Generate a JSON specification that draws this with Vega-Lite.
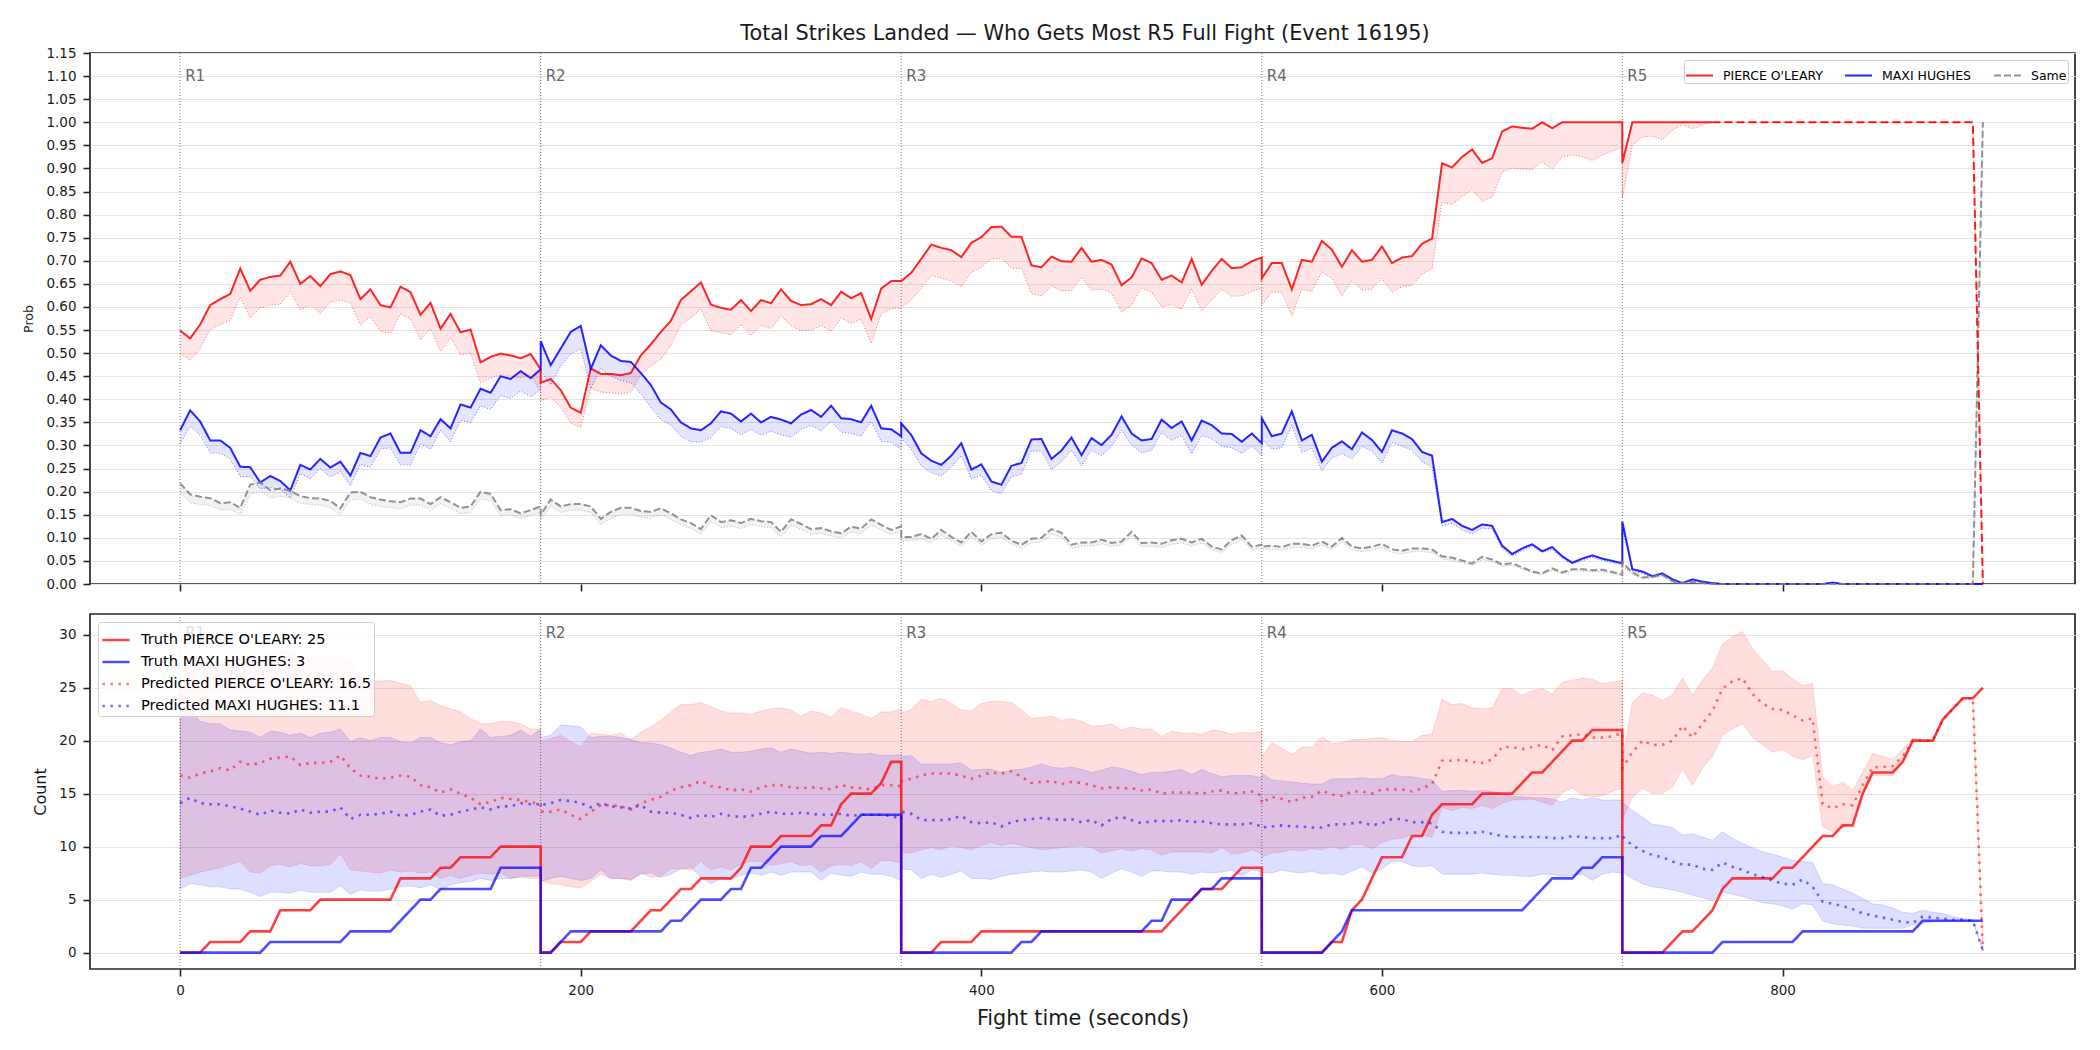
{
  "$schema": "https://vega.github.io/schema/vega-lite/v6.json",
  "background": "white",
  "padding": {"left": 22, "top": 22, "right": 5, "bottom": 5},
  "config": {
    "font": "DejaVu Sans",
    "view": {"stroke": "#262626", "strokeWidth": 1.7},
    "axis": {
      "domain": false,
      "tickColor": "#262626",
      "tickWidth": 1.6,
      "tickSize": 7,
      "labelFont": "DejaVu Sans",
      "labelFontSize": 13.5,
      "labelColor": "#1a1a1a",
      "labelPadding": 7,
      "labelOverlap": false,
      "gridColor": "#e4e4e4",
      "gridWidth": 1,
      "titleFont": "DejaVu Sans",
      "titleFontWeight": "normal",
      "titleColor": "#1a1a1a"
    }
  },
  "title": {
    "text": "Total Strikes Landed — Who Gets Most R5 Full Fight (Event 16195)",
    "font": "DejaVu Sans",
    "fontSize": 20.8,
    "fontWeight": "normal",
    "color": "#1a1a1a",
    "anchor": "middle",
    "dx": 36,
    "offset": 0.5
  },
  "datasets": {
    "rounds": [
      {"t": 0, "r": "R1"}, {"t": 180, "r": "R2"}, {"t": 360, "r": "R3"}, {"t": 540, "r": "R4"}, {"t": 720, "r": "R5"}
    ],
    "fight": [
      {"t":0,"pr":0.549,"prl":0.498,"pb":0.333,"pbl":0.303,"ps":0.218,"psl":0.198,"tr":0,"tb":0,"er":16.7,"erl":7.0,"erh":26.0,"eb":14.1,"ebl":6.0,"ebh":22.1},
      {"t":5,"pr":0.532,"prl":0.485,"pb":0.376,"pbl":0.342,"ps":0.194,"psl":0.176,"tr":0,"tb":0,"er":16.5,"erl":7.3,"erh":26.5,"eb":14.6,"ebl":6.5,"ebh":22.9},
      {"t":10,"pr":0.562,"prl":0.510,"pb":0.352,"pbl":0.322,"ps":0.189,"psl":0.172,"tr":0,"tb":0,"er":16.9,"erl":7.6,"erh":26.8,"eb":14.1,"ebl":6.4,"ebh":21.8},
      {"t":15,"pr":0.604,"prl":0.551,"pb":0.311,"pbl":0.284,"ps":0.186,"psl":0.170,"tr":1,"tb":0,"er":17.1,"erl":7.8,"erh":27.2,"eb":14.0,"ebl":6.2,"ebh":21.6},
      {"t":20,"pr":0.617,"prl":0.562,"pb":0.311,"pbl":0.283,"ps":0.175,"psl":0.160,"tr":1,"tb":0,"er":17.4,"erl":8.0,"erh":27.5,"eb":14.0,"ebl":6.2,"ebh":21.6},
      {"t":25,"pr":0.628,"prl":0.571,"pb":0.295,"pbl":0.271,"ps":0.177,"psl":0.162,"tr":1,"tb":0,"er":17.2,"erl":8.3,"erh":27.4,"eb":13.8,"ebl":6.0,"ebh":21.0},
      {"t":30,"pr":0.683,"prl":0.621,"pb":0.254,"pbl":0.233,"ps":0.165,"psl":0.150,"tr":1,"tb":0,"er":18.0,"erl":8.6,"erh":27.8,"eb":13.6,"ebl":6.0,"ebh":20.9},
      {"t":35,"pr":0.635,"prl":0.577,"pb":0.253,"pbl":0.232,"ps":0.215,"psl":0.194,"tr":2,"tb":0,"er":17.7,"erl":7.6,"erh":27.6,"eb":13.3,"ebl":5.7,"ebh":20.8},
      {"t":40,"pr":0.659,"prl":0.598,"pb":0.220,"pbl":0.206,"ps":0.220,"psl":0.202,"tr":2,"tb":0,"er":17.9,"erl":7.5,"erh":27.7,"eb":13.0,"ebl":5.3,"ebh":20.3},
      {"t":45,"pr":0.665,"prl":0.604,"pb":0.234,"pbl":0.209,"ps":0.203,"psl":0.186,"tr":2,"tb":1,"er":18.3,"erl":8.2,"erh":28.1,"eb":13.4,"ebl":5.7,"ebh":20.9},
      {"t":50,"pr":0.668,"prl":0.606,"pb":0.223,"pbl":0.205,"ps":0.207,"psl":0.190,"tr":4,"tb":1,"er":18.4,"erl":8.3,"erh":28.4,"eb":13.2,"ebl":5.7,"ebh":20.8},
      {"t":55,"pr":0.698,"prl":0.633,"pb":0.203,"pbl":0.186,"ps":0.202,"psl":0.186,"tr":4,"tb":1,"er":18.5,"erl":8.1,"erh":28.6,"eb":13.1,"ebl":5.6,"ebh":20.5},
      {"t":60,"pr":0.650,"prl":0.594,"pb":0.258,"pbl":0.239,"ps":0.190,"psl":0.175,"tr":4,"tb":1,"er":17.7,"erl":8.4,"erh":27.9,"eb":13.5,"ebl":5.9,"ebh":20.7},
      {"t":65,"pr":0.667,"prl":0.604,"pb":0.248,"pbl":0.228,"ps":0.186,"psl":0.172,"tr":4,"tb":1,"er":17.9,"erl":8.2,"erh":27.8,"eb":13.2,"ebl":5.7,"ebh":20.3},
      {"t":70,"pr":0.645,"prl":0.586,"pb":0.271,"pbl":0.250,"ps":0.185,"psl":0.171,"tr":5,"tb":1,"er":17.9,"erl":8.2,"erh":27.9,"eb":13.3,"ebl":5.7,"ebh":20.7},
      {"t":75,"pr":0.671,"prl":0.611,"pb":0.252,"pbl":0.232,"ps":0.180,"psl":0.166,"tr":5,"tb":1,"er":18.0,"erl":8.3,"erh":27.8,"eb":13.3,"ebl":5.7,"ebh":20.8},
      {"t":80,"pr":0.677,"prl":0.615,"pb":0.265,"pbl":0.243,"ps":0.164,"psl":0.150,"tr":5,"tb":1,"er":18.6,"erl":9.3,"erh":27.9,"eb":13.7,"ebl":6.3,"ebh":21.1},
      {"t":85,"pr":0.669,"prl":0.609,"pb":0.235,"pbl":0.213,"ps":0.198,"psl":0.182,"tr":5,"tb":2,"er":17.4,"erl":7.8,"erh":27.6,"eb":12.6,"ebl":5.5,"ebh":19.9},
      {"t":90,"pr":0.617,"prl":0.561,"pb":0.284,"pbl":0.259,"ps":0.200,"psl":0.184,"tr":5,"tb":2,"er":16.7,"erl":7.7,"erh":26.0,"eb":13.0,"ebl":5.9,"ebh":20.3},
      {"t":95,"pr":0.638,"prl":0.579,"pb":0.277,"pbl":0.253,"ps":0.188,"psl":0.173,"tr":5,"tb":2,"er":16.6,"erl":7.6,"erh":25.7,"eb":13.0,"ebl":5.8,"ebh":20.0},
      {"t":100,"pr":0.604,"prl":0.547,"pb":0.317,"pbl":0.292,"ps":0.183,"psl":0.168,"tr":5,"tb":2,"er":16.4,"erl":7.5,"erh":25.6,"eb":13.1,"ebl":5.8,"ebh":20.3},
      {"t":105,"pr":0.599,"prl":0.543,"pb":0.326,"pbl":0.295,"ps":0.179,"psl":0.165,"tr":5,"tb":2,"er":16.5,"erl":7.8,"erh":25.7,"eb":13.3,"ebl":6.0,"ebh":20.3},
      {"t":110,"pr":0.644,"prl":0.585,"pb":0.284,"pbl":0.258,"ps":0.177,"psl":0.163,"tr":7,"tb":3,"er":16.7,"erl":7.6,"erh":25.4,"eb":12.9,"ebl":6.2,"ebh":19.9},
      {"t":115,"pr":0.632,"prl":0.574,"pb":0.284,"pbl":0.258,"ps":0.185,"psl":0.170,"tr":7,"tb":4,"er":16.6,"erl":7.7,"erh":25.2,"eb":13.0,"ebl":6.3,"ebh":19.8},
      {"t":120,"pr":0.583,"prl":0.529,"pb":0.333,"pbl":0.303,"ps":0.185,"psl":0.171,"tr":7,"tb":5,"er":15.8,"erl":7.5,"erh":23.6,"eb":13.3,"ebl":6.1,"ebh":20.3},
      {"t":125,"pr":0.609,"prl":0.553,"pb":0.320,"pbl":0.292,"ps":0.173,"psl":0.160,"tr":7,"tb":5,"er":15.6,"erl":7.6,"erh":23.8,"eb":13.5,"ebl":6.4,"ebh":20.3},
      {"t":130,"pr":0.553,"prl":0.504,"pb":0.357,"pbl":0.333,"ps":0.188,"psl":0.174,"tr":8,"tb":6,"er":15.1,"erl":7.0,"erh":23.3,"eb":12.9,"ebl":5.9,"ebh":19.8},
      {"t":135,"pr":0.585,"prl":0.534,"pb":0.337,"pbl":0.308,"ps":0.177,"psl":0.164,"tr":8,"tb":6,"er":15.4,"erl":7.3,"erh":23.0,"eb":13.0,"ebl":6.4,"ebh":19.6},
      {"t":140,"pr":0.545,"prl":0.496,"pb":0.389,"pbl":0.354,"ps":0.165,"psl":0.152,"tr":9,"tb":6,"er":15.0,"erl":7.0,"erh":22.7,"eb":13.3,"ebl":6.6,"ebh":19.9},
      {"t":145,"pr":0.551,"prl":0.501,"pb":0.382,"pbl":0.350,"ps":0.168,"psl":0.155,"tr":9,"tb":6,"er":14.6,"erl":7.3,"erh":22.1,"eb":13.5,"ebl":6.7,"ebh":20.0},
      {"t":150,"pr":0.480,"prl":0.436,"pb":0.423,"pbl":0.386,"ps":0.200,"psl":0.184,"tr":9,"tb":6,"er":14.0,"erl":7.5,"erh":21.6,"eb":13.7,"ebl":7.0,"ebh":21.1},
      {"t":155,"pr":0.492,"prl":0.446,"pb":0.414,"pbl":0.378,"ps":0.195,"psl":0.180,"tr":9,"tb":6,"er":14.2,"erl":7.4,"erh":21.6,"eb":13.5,"ebl":6.8,"ebh":20.3},
      {"t":160,"pr":0.499,"prl":0.453,"pb":0.450,"pbl":0.408,"ps":0.160,"psl":0.148,"tr":10,"tb":8,"er":14.6,"erl":7.5,"erh":21.8,"eb":13.8,"ebl":7.0,"ebh":20.4},
      {"t":165,"pr":0.495,"prl":0.450,"pb":0.444,"pbl":0.402,"ps":0.162,"psl":0.150,"tr":10,"tb":8,"er":14.5,"erl":7.0,"erh":21.8,"eb":13.8,"ebl":7.0,"ebh":20.5},
      {"t":170,"pr":0.489,"prl":0.446,"pb":0.461,"pbl":0.418,"ps":0.153,"psl":0.142,"tr":10,"tb":8,"er":14.4,"erl":7.1,"erh":21.6,"eb":14.1,"ebl":7.2,"ebh":21.0},
      {"t":175,"pr":0.498,"prl":0.453,"pb":0.446,"pbl":0.406,"ps":0.160,"psl":0.148,"tr":10,"tb":8,"er":14.2,"erl":7.0,"erh":21.1,"eb":14.0,"ebl":7.2,"ebh":20.4},
      {"t":180,"pr":0.465,"prl":0.415,"pb":0.465,"pbl":0.420,"ps":0.168,"psl":0.155,"tr":10,"tb":8,"er":14.0,"erl":7.0,"erh":21.1,"eb":14.0,"ebl":7.2,"ebh":21.1},
      {"t":180,"pr":0.436,"prl":0.397,"pb":0.526,"pbl":0.462,"ps":0.150,"psl":0.138,"tr":0,"tb":0,"er":13.3,"erl":6.8,"erh":19.9,"eb":13.9,"ebl":6.7,"ebh":20.3},
      {"t":185,"pr":0.444,"prl":0.405,"pb":0.474,"pbl":0.431,"ps":0.183,"psl":0.168,"tr":0,"tb":0,"er":13.3,"erl":6.5,"erh":20.2,"eb":14.1,"ebl":7.0,"ebh":20.5},
      {"t":190,"pr":0.420,"prl":0.382,"pb":0.510,"pbl":0.472,"ps":0.168,"psl":0.155,"tr":1,"tb":1,"er":13.5,"erl":6.4,"erh":20.5,"eb":14.4,"ebl":7.2,"ebh":21.5},
      {"t":195,"pr":0.382,"prl":0.348,"pb":0.546,"pbl":0.498,"ps":0.173,"psl":0.160,"tr":1,"tb":2,"er":13.0,"erl":6.2,"erh":19.9,"eb":14.3,"ebl":7.0,"ebh":21.4},
      {"t":200,"pr":0.371,"prl":0.339,"pb":0.559,"pbl":0.510,"ps":0.173,"psl":0.160,"tr":1,"tb":2,"er":12.6,"erl":6.1,"erh":19.4,"eb":14.1,"ebl":6.8,"ebh":21.3},
      {"t":205,"pr":0.467,"prl":0.423,"pb":0.466,"pbl":0.423,"ps":0.168,"psl":0.155,"tr":2,"tb":2,"er":13.3,"erl":6.7,"erh":20.7,"eb":13.7,"ebl":7.0,"ebh":20.3},
      {"t":210,"pr":0.455,"prl":0.416,"pb":0.517,"pbl":0.468,"ps":0.141,"psl":0.128,"tr":2,"tb":2,"er":13.9,"erl":7.4,"erh":20.6,"eb":14.1,"ebl":7.8,"ebh":20.4},
      {"t":215,"pr":0.455,"prl":0.414,"pb":0.495,"pbl":0.450,"ps":0.156,"psl":0.142,"tr":2,"tb":2,"er":13.9,"erl":7.0,"erh":20.5,"eb":13.8,"ebl":7.0,"ebh":20.4},
      {"t":220,"pr":0.452,"prl":0.412,"pb":0.483,"pbl":0.441,"ps":0.165,"psl":0.150,"tr":2,"tb":2,"er":13.8,"erl":7.0,"erh":20.7,"eb":13.7,"ebl":7.0,"ebh":20.3},
      {"t":225,"pr":0.457,"prl":0.416,"pb":0.481,"pbl":0.436,"ps":0.165,"psl":0.151,"tr":2,"tb":2,"er":13.5,"erl":6.8,"erh":20.1,"eb":13.6,"ebl":6.9,"ebh":20.1},
      {"t":230,"pr":0.495,"prl":0.453,"pb":0.457,"pbl":0.412,"ps":0.158,"psl":0.145,"tr":3,"tb":2,"er":14.1,"erl":7.5,"erh":20.8,"eb":13.9,"ebl":7.4,"ebh":19.8},
      {"t":235,"pr":0.519,"prl":0.472,"pb":0.431,"pbl":0.382,"ps":0.156,"psl":0.143,"tr":4,"tb":2,"er":14.4,"erl":7.1,"erh":21.3,"eb":13.3,"ebl":7.5,"ebh":19.8},
      {"t":240,"pr":0.546,"prl":0.487,"pb":0.393,"pbl":0.356,"ps":0.164,"psl":0.150,"tr":4,"tb":2,"er":14.7,"erl":7.2,"erh":21.9,"eb":13.2,"ebl":7.1,"ebh":19.6},
      {"t":245,"pr":0.570,"prl":0.517,"pb":0.378,"pbl":0.344,"ps":0.153,"psl":0.140,"tr":5,"tb":3,"er":15.3,"erl":7.9,"erh":22.7,"eb":13.2,"ebl":7.4,"ebh":19.3},
      {"t":250,"pr":0.615,"prl":0.562,"pb":0.350,"pbl":0.320,"ps":0.140,"psl":0.128,"tr":6,"tb":3,"er":15.6,"erl":7.9,"erh":23.4,"eb":13.0,"ebl":7.9,"ebh":18.9},
      {"t":255,"pr":0.634,"prl":0.576,"pb":0.337,"pbl":0.308,"ps":0.132,"psl":0.120,"tr":6,"tb":4,"er":15.8,"erl":7.8,"erh":23.4,"eb":12.7,"ebl":8.0,"ebh":18.6},
      {"t":260,"pr":0.653,"prl":0.595,"pb":0.333,"pbl":0.307,"ps":0.119,"psl":0.108,"tr":7,"tb":5,"er":16.2,"erl":8.6,"erh":23.6,"eb":13.0,"ebl":7.1,"ebh":18.9},
      {"t":265,"pr":0.605,"prl":0.549,"pb":0.348,"pbl":0.318,"ps":0.149,"psl":0.136,"tr":7,"tb":5,"er":15.7,"erl":7.8,"erh":23.2,"eb":12.8,"ebl":6.5,"ebh":19.0},
      {"t":270,"pr":0.598,"prl":0.544,"pb":0.374,"pbl":0.341,"ps":0.134,"psl":0.122,"tr":7,"tb":5,"er":15.6,"erl":8.1,"erh":22.8,"eb":13.1,"ebl":7.0,"ebh":19.2},
      {"t":275,"pr":0.594,"prl":0.540,"pb":0.369,"pbl":0.337,"ps":0.138,"psl":0.126,"tr":7,"tb":6,"er":15.3,"erl":7.8,"erh":22.6,"eb":12.9,"ebl":6.9,"ebh":18.9},
      {"t":280,"pr":0.615,"prl":0.562,"pb":0.352,"pbl":0.323,"ps":0.132,"psl":0.120,"tr":8,"tb":6,"er":15.4,"erl":8.4,"erh":22.6,"eb":12.8,"ebl":7.3,"ebh":18.9},
      {"t":285,"pr":0.591,"prl":0.538,"pb":0.369,"pbl":0.335,"ps":0.141,"psl":0.129,"tr":10,"tb":8,"er":15.2,"erl":8.6,"erh":22.5,"eb":12.9,"ebl":7.5,"ebh":19.0},
      {"t":290,"pr":0.615,"prl":0.560,"pb":0.350,"pbl":0.322,"ps":0.136,"psl":0.124,"tr":10,"tb":8,"er":15.6,"erl":8.6,"erh":22.8,"eb":13.1,"ebl":7.3,"ebh":19.2},
      {"t":295,"pr":0.608,"prl":0.553,"pb":0.362,"pbl":0.331,"ps":0.134,"psl":0.122,"tr":10,"tb":9,"er":15.8,"erl":8.2,"erh":23.0,"eb":13.3,"ebl":7.6,"ebh":19.3},
      {"t":300,"pr":0.638,"prl":0.581,"pb":0.356,"pbl":0.323,"ps":0.113,"psl":0.102,"tr":11,"tb":10,"er":15.8,"erl":8.4,"erh":23.1,"eb":13.1,"ebl":7.3,"ebh":18.9},
      {"t":305,"pr":0.613,"prl":0.559,"pb":0.348,"pbl":0.318,"ps":0.140,"psl":0.128,"tr":11,"tb":10,"er":15.6,"erl":8.6,"erh":22.9,"eb":13.1,"ebl":7.6,"ebh":19.2},
      {"t":310,"pr":0.604,"prl":0.549,"pb":0.367,"pbl":0.335,"ps":0.130,"psl":0.118,"tr":11,"tb":10,"er":15.5,"erl":8.2,"erh":22.3,"eb":13.2,"ebl":7.6,"ebh":19.0},
      {"t":315,"pr":0.606,"prl":0.550,"pb":0.377,"pbl":0.343,"ps":0.119,"psl":0.108,"tr":11,"tb":10,"er":15.6,"erl":8.3,"erh":22.8,"eb":13.1,"ebl":7.6,"ebh":18.8},
      {"t":320,"pr":0.617,"prl":0.560,"pb":0.362,"pbl":0.332,"ps":0.121,"psl":0.110,"tr":12,"tb":11,"er":15.5,"erl":7.6,"erh":22.6,"eb":13.0,"ebl":6.8,"ebh":18.9},
      {"t":325,"pr":0.604,"prl":0.547,"pb":0.386,"pbl":0.352,"ps":0.114,"psl":0.104,"tr":12,"tb":11,"er":15.4,"erl":8.2,"erh":22.2,"eb":13.0,"ebl":7.5,"ebh":18.8},
      {"t":330,"pr":0.633,"prl":0.576,"pb":0.359,"pbl":0.329,"ps":0.110,"psl":0.100,"tr":14,"tb":11,"er":15.8,"erl":8.3,"erh":23.1,"eb":13.1,"ebl":7.3,"ebh":18.9},
      {"t":335,"pr":0.619,"prl":0.564,"pb":0.357,"pbl":0.326,"ps":0.124,"psl":0.113,"tr":15,"tb":12,"er":15.6,"erl":8.2,"erh":22.8,"eb":12.9,"ebl":7.2,"ebh":18.8},
      {"t":340,"pr":0.630,"prl":0.574,"pb":0.350,"pbl":0.320,"ps":0.120,"psl":0.109,"tr":15,"tb":13,"er":15.5,"erl":8.6,"erh":22.5,"eb":13.0,"ebl":7.6,"ebh":18.7},
      {"t":345,"pr":0.574,"prl":0.521,"pb":0.386,"pbl":0.352,"ps":0.140,"psl":0.128,"tr":15,"tb":13,"er":15.4,"erl":7.9,"erh":22.1,"eb":13.0,"ebl":7.4,"ebh":18.8},
      {"t":350,"pr":0.640,"prl":0.585,"pb":0.337,"pbl":0.309,"ps":0.128,"psl":0.117,"tr":16,"tb":13,"er":15.8,"erl":8.7,"erh":22.7,"eb":13.0,"ebl":7.4,"ebh":18.6},
      {"t":355,"pr":0.656,"prl":0.596,"pb":0.335,"pbl":0.307,"ps":0.117,"psl":0.107,"tr":18,"tb":13,"er":15.8,"erl":8.7,"erh":22.7,"eb":12.9,"ebl":7.2,"ebh":18.6},
      {"t":360,"pr":0.656,"prl":0.598,"pb":0.320,"pbl":0.292,"ps":0.125,"psl":0.114,"tr":18,"tb":13,"er":15.7,"erl":8.4,"erh":23.0,"eb":12.6,"ebl":6.8,"ebh":18.7},
      {"t":360,"pr":0.656,"prl":0.598,"pb":0.348,"pbl":0.316,"ps":0.102,"psl":0.093,"tr":0,"tb":0,"er":16.2,"erl":9.5,"erh":22.6,"eb":13.3,"ebl":7.9,"ebh":18.5},
      {"t":365,"pr":0.674,"prl":0.615,"pb":0.323,"pbl":0.292,"ps":0.102,"psl":0.093,"tr":0,"tb":0,"er":16.4,"erl":9.4,"erh":22.9,"eb":13.1,"ebl":7.8,"ebh":18.6},
      {"t":370,"pr":0.704,"prl":0.641,"pb":0.283,"pbl":0.256,"ps":0.108,"psl":0.098,"tr":0,"tb":0,"er":16.7,"erl":9.7,"erh":23.9,"eb":12.5,"ebl":7.0,"ebh":17.8},
      {"t":375,"pr":0.735,"prl":0.668,"pb":0.267,"pbl":0.241,"ps":0.098,"psl":0.089,"tr":0,"tb":0,"er":16.9,"erl":9.9,"erh":23.7,"eb":12.5,"ebl":7.4,"ebh":17.8},
      {"t":380,"pr":0.728,"prl":0.662,"pb":0.258,"pbl":0.234,"ps":0.117,"psl":0.106,"tr":1,"tb":0,"er":16.9,"erl":9.7,"erh":24.0,"eb":12.5,"ebl":7.1,"ebh":17.8},
      {"t":385,"pr":0.723,"prl":0.656,"pb":0.278,"pbl":0.253,"ps":0.102,"psl":0.093,"tr":1,"tb":0,"er":16.9,"erl":10.1,"erh":23.5,"eb":12.6,"ebl":7.4,"ebh":17.8},
      {"t":390,"pr":0.708,"prl":0.644,"pb":0.305,"pbl":0.278,"ps":0.090,"psl":0.082,"tr":1,"tb":0,"er":16.7,"erl":9.9,"erh":22.9,"eb":12.9,"ebl":7.7,"ebh":17.9},
      {"t":395,"pr":0.739,"prl":0.675,"pb":0.248,"pbl":0.228,"ps":0.113,"psl":0.103,"tr":1,"tb":0,"er":16.4,"erl":9.7,"erh":22.8,"eb":12.3,"ebl":7.0,"ebh":17.2},
      {"t":400,"pr":0.751,"prl":0.686,"pb":0.259,"pbl":0.235,"ps":0.092,"psl":0.084,"tr":2,"tb":0,"er":16.7,"erl":10.1,"erh":23.5,"eb":12.2,"ebl":7.0,"ebh":17.3},
      {"t":405,"pr":0.773,"prl":0.704,"pb":0.222,"pbl":0.202,"ps":0.108,"psl":0.098,"tr":2,"tb":0,"er":17.0,"erl":10.4,"erh":23.7,"eb":12.3,"ebl":6.9,"ebh":17.3},
      {"t":410,"pr":0.774,"prl":0.705,"pb":0.215,"pbl":0.196,"ps":0.111,"psl":0.101,"tr":2,"tb":0,"er":16.9,"erl":10.1,"erh":23.7,"eb":11.9,"ebl":7.2,"ebh":17.0},
      {"t":415,"pr":0.752,"prl":0.684,"pb":0.256,"pbl":0.232,"ps":0.094,"psl":0.086,"tr":2,"tb":0,"er":17.1,"erl":10.3,"erh":23.6,"eb":12.3,"ebl":7.4,"ebh":17.2},
      {"t":420,"pr":0.752,"prl":0.684,"pb":0.262,"pbl":0.238,"ps":0.085,"psl":0.077,"tr":2,"tb":1,"er":16.6,"erl":10.1,"erh":22.9,"eb":12.5,"ebl":7.5,"ebh":17.3},
      {"t":425,"pr":0.690,"prl":0.629,"pb":0.313,"pbl":0.288,"ps":0.098,"psl":0.089,"tr":2,"tb":1,"er":16.0,"erl":9.9,"erh":22.1,"eb":12.6,"ebl":7.6,"ebh":17.5},
      {"t":430,"pr":0.686,"prl":0.624,"pb":0.314,"pbl":0.288,"ps":0.100,"psl":0.091,"tr":2,"tb":2,"er":16.1,"erl":9.7,"erh":22.2,"eb":12.7,"ebl":7.7,"ebh":17.8},
      {"t":435,"pr":0.709,"prl":0.645,"pb":0.271,"pbl":0.248,"ps":0.119,"psl":0.108,"tr":2,"tb":2,"er":16.2,"erl":9.8,"erh":22.3,"eb":12.6,"ebl":7.6,"ebh":17.5},
      {"t":440,"pr":0.699,"prl":0.635,"pb":0.289,"pbl":0.265,"ps":0.111,"psl":0.101,"tr":2,"tb":2,"er":15.9,"erl":9.9,"erh":21.9,"eb":12.5,"ebl":7.6,"ebh":17.4},
      {"t":445,"pr":0.698,"prl":0.635,"pb":0.317,"pbl":0.290,"ps":0.085,"psl":0.077,"tr":2,"tb":2,"er":16.1,"erl":10.0,"erh":22.1,"eb":12.6,"ebl":7.7,"ebh":17.5},
      {"t":450,"pr":0.728,"prl":0.665,"pb":0.279,"pbl":0.256,"ps":0.090,"psl":0.082,"tr":2,"tb":2,"er":16.0,"erl":10.1,"erh":21.8,"eb":12.3,"ebl":7.8,"ebh":17.3},
      {"t":455,"pr":0.698,"prl":0.636,"pb":0.316,"pbl":0.290,"ps":0.090,"psl":0.082,"tr":2,"tb":2,"er":15.8,"erl":9.9,"erh":21.4,"eb":12.5,"ebl":7.6,"ebh":17.0},
      {"t":460,"pr":0.702,"prl":0.639,"pb":0.301,"pbl":0.278,"ps":0.096,"psl":0.087,"tr":2,"tb":2,"er":15.5,"erl":9.4,"erh":21.4,"eb":12.0,"ebl":7.0,"ebh":17.2},
      {"t":465,"pr":0.692,"prl":0.630,"pb":0.323,"pbl":0.298,"ps":0.089,"psl":0.081,"tr":2,"tb":2,"er":15.6,"erl":9.6,"erh":21.6,"eb":12.6,"ebl":7.5,"ebh":17.5},
      {"t":470,"pr":0.647,"prl":0.589,"pb":0.363,"pbl":0.333,"ps":0.092,"psl":0.084,"tr":2,"tb":2,"er":15.5,"erl":9.8,"erh":21.0,"eb":12.8,"ebl":7.9,"ebh":17.4},
      {"t":475,"pr":0.664,"prl":0.604,"pb":0.326,"pbl":0.301,"ps":0.113,"psl":0.103,"tr":2,"tb":2,"er":15.5,"erl":9.6,"erh":21.3,"eb":12.5,"ebl":7.6,"ebh":17.1},
      {"t":480,"pr":0.705,"prl":0.641,"pb":0.311,"pbl":0.284,"ps":0.089,"psl":0.081,"tr":2,"tb":2,"er":15.3,"erl":9.8,"erh":21.1,"eb":12.2,"ebl":7.2,"ebh":16.8},
      {"t":485,"pr":0.695,"prl":0.632,"pb":0.314,"pbl":0.289,"ps":0.090,"psl":0.082,"tr":2,"tb":3,"er":15.4,"erl":9.7,"erh":21.1,"eb":12.4,"ebl":7.7,"ebh":17.0},
      {"t":490,"pr":0.659,"prl":0.600,"pb":0.356,"pbl":0.328,"ps":0.087,"psl":0.079,"tr":2,"tb":3,"er":15.0,"erl":9.2,"erh":20.4,"eb":12.4,"ebl":7.7,"ebh":17.0},
      {"t":495,"pr":0.668,"prl":0.606,"pb":0.338,"pbl":0.311,"ps":0.095,"psl":0.086,"tr":3,"tb":5,"er":15.1,"erl":9.5,"erh":20.9,"eb":12.4,"ebl":7.6,"ebh":17.1},
      {"t":500,"pr":0.653,"prl":0.595,"pb":0.352,"pbl":0.322,"ps":0.098,"psl":0.089,"tr":4,"tb":5,"er":15.1,"erl":9.5,"erh":20.7,"eb":12.5,"ebl":7.6,"ebh":17.3},
      {"t":505,"pr":0.704,"prl":0.639,"pb":0.311,"pbl":0.282,"ps":0.090,"psl":0.082,"tr":5,"tb":5,"er":15.1,"erl":9.5,"erh":20.7,"eb":12.3,"ebl":7.4,"ebh":16.8},
      {"t":510,"pr":0.648,"prl":0.591,"pb":0.354,"pbl":0.322,"ps":0.098,"psl":0.089,"tr":6,"tb":6,"er":15.0,"erl":9.5,"erh":20.6,"eb":12.4,"ebl":7.6,"ebh":17.3},
      {"t":515,"pr":0.678,"prl":0.615,"pb":0.344,"pbl":0.314,"ps":0.081,"psl":0.074,"tr":6,"tb":6,"er":15.2,"erl":9.4,"erh":21.0,"eb":12.2,"ebl":7.5,"ebh":16.9},
      {"t":520,"pr":0.704,"prl":0.638,"pb":0.326,"pbl":0.298,"ps":0.075,"psl":0.068,"tr":6,"tb":7,"er":15.3,"erl":9.9,"erh":20.9,"eb":12.1,"ebl":7.6,"ebh":16.6},
      {"t":525,"pr":0.684,"prl":0.623,"pb":0.325,"pbl":0.295,"ps":0.095,"psl":0.086,"tr":7,"tb":7,"er":15.0,"erl":9.3,"erh":20.6,"eb":12.1,"ebl":7.8,"ebh":16.7},
      {"t":530,"pr":0.686,"prl":0.624,"pb":0.308,"pbl":0.283,"ps":0.105,"psl":0.095,"tr":8,"tb":7,"er":15.1,"erl":9.4,"erh":20.8,"eb":12.1,"ebl":7.3,"ebh":16.7},
      {"t":535,"pr":0.699,"prl":0.634,"pb":0.326,"pbl":0.299,"ps":0.081,"psl":0.074,"tr":8,"tb":7,"er":15.2,"erl":9.7,"erh":20.7,"eb":12.2,"ebl":7.8,"ebh":16.7},
      {"t":540,"pr":0.707,"prl":0.641,"pb":0.305,"pbl":0.278,"ps":0.085,"psl":0.077,"tr":8,"tb":7,"er":14.8,"erl":9.3,"erh":20.9,"eb":11.9,"ebl":7.6,"ebh":16.5},
      {"t":540,"pr":0.662,"prl":0.604,"pb":0.359,"pbl":0.314,"ps":0.081,"psl":0.074,"tr":0,"tb":0,"er":14.1,"erl":9.0,"erh":18.5,"eb":11.8,"ebl":7.6,"ebh":16.9},
      {"t":545,"pr":0.695,"prl":0.632,"pb":0.320,"pbl":0.292,"ps":0.083,"psl":0.076,"tr":0,"tb":0,"er":14.7,"erl":9.4,"erh":19.8,"eb":11.9,"ebl":7.5,"ebh":16.3},
      {"t":550,"pr":0.695,"prl":0.632,"pb":0.326,"pbl":0.295,"ps":0.080,"psl":0.073,"tr":0,"tb":0,"er":14.5,"erl":9.5,"erh":19.3,"eb":12.0,"ebl":7.8,"ebh":16.2},
      {"t":555,"pr":0.638,"prl":0.581,"pb":0.374,"pbl":0.344,"ps":0.087,"psl":0.079,"tr":0,"tb":0,"er":14.2,"erl":9.7,"erh":18.7,"eb":11.9,"ebl":7.6,"ebh":16.1},
      {"t":560,"pr":0.702,"prl":0.638,"pb":0.311,"pbl":0.284,"ps":0.087,"psl":0.079,"tr":0,"tb":0,"er":14.6,"erl":9.6,"erh":19.4,"eb":11.9,"ebl":7.5,"ebh":16.0},
      {"t":565,"pr":0.698,"prl":0.634,"pb":0.323,"pbl":0.295,"ps":0.083,"psl":0.076,"tr":0,"tb":0,"er":14.7,"erl":9.8,"erh":19.4,"eb":11.8,"ebl":7.7,"ebh":15.9},
      {"t":570,"pr":0.743,"prl":0.675,"pb":0.265,"pbl":0.245,"ps":0.092,"psl":0.084,"tr":0,"tb":0,"er":15.3,"erl":9.7,"erh":20.4,"eb":11.8,"ebl":7.4,"ebh":15.9},
      {"t":575,"pr":0.724,"prl":0.662,"pb":0.295,"pbl":0.273,"ps":0.081,"psl":0.074,"tr":1,"tb":1,"er":14.9,"erl":10.0,"erh":19.7,"eb":12.1,"ebl":7.5,"ebh":16.4},
      {"t":580,"pr":0.687,"prl":0.624,"pb":0.309,"pbl":0.282,"ps":0.100,"psl":0.091,"tr":1,"tb":2,"er":14.8,"erl":9.7,"erh":19.8,"eb":12.1,"ebl":7.3,"ebh":16.4},
      {"t":585,"pr":0.723,"prl":0.656,"pb":0.292,"pbl":0.271,"ps":0.081,"psl":0.074,"tr":4,"tb":4,"er":15.2,"erl":10.2,"erh":20.1,"eb":12.2,"ebl":7.7,"ebh":16.4},
      {"t":590,"pr":0.698,"prl":0.636,"pb":0.328,"pbl":0.298,"ps":0.077,"psl":0.070,"tr":5,"tb":4,"er":15.2,"erl":10.2,"erh":20.1,"eb":12.3,"ebl":8.1,"ebh":16.5},
      {"t":595,"pr":0.702,"prl":0.639,"pb":0.312,"pbl":0.288,"ps":0.081,"psl":0.074,"tr":7,"tb":4,"er":15.0,"erl":9.8,"erh":20.2,"eb":12.0,"ebl":7.5,"ebh":16.4},
      {"t":600,"pr":0.731,"prl":0.662,"pb":0.286,"pbl":0.262,"ps":0.087,"psl":0.079,"tr":9,"tb":4,"er":15.4,"erl":10.4,"erh":20.3,"eb":12.2,"ebl":7.9,"ebh":16.4},
      {"t":605,"pr":0.695,"prl":0.632,"pb":0.333,"pbl":0.307,"ps":0.075,"psl":0.068,"tr":9,"tb":4,"er":15.4,"erl":10.7,"erh":20.0,"eb":12.6,"ebl":8.6,"ebh":16.8},
      {"t":610,"pr":0.707,"prl":0.644,"pb":0.326,"pbl":0.298,"ps":0.072,"psl":0.065,"tr":9,"tb":4,"er":15.4,"erl":10.8,"erh":19.9,"eb":12.6,"ebl":8.6,"ebh":16.6},
      {"t":615,"pr":0.710,"prl":0.647,"pb":0.314,"pbl":0.290,"ps":0.077,"psl":0.070,"tr":11,"tb":4,"er":15.2,"erl":11.1,"erh":19.9,"eb":12.3,"ebl":8.2,"ebh":16.6},
      {"t":620,"pr":0.737,"prl":0.671,"pb":0.286,"pbl":0.265,"ps":0.077,"psl":0.070,"tr":11,"tb":4,"er":15.5,"erl":11.1,"erh":20.5,"eb":12.3,"ebl":8.1,"ebh":16.4},
      {"t":625,"pr":0.748,"prl":0.683,"pb":0.278,"pbl":0.254,"ps":0.075,"psl":0.068,"tr":13,"tb":4,"er":15.9,"erl":10.9,"erh":20.6,"eb":12.2,"ebl":8.2,"ebh":16.3},
      {"t":630,"pr":0.911,"prl":0.827,"pb":0.134,"pbl":0.126,"ps":0.060,"psl":0.054,"tr":14,"tb":4,"er":18.1,"erl":13.7,"erh":23.9,"eb":11.4,"ebl":7.4,"ebh":15.2},
      {"t":635,"pr":0.902,"prl":0.822,"pb":0.141,"pbl":0.132,"ps":0.057,"psl":0.051,"tr":14,"tb":4,"er":18.1,"erl":13.4,"erh":23.4,"eb":11.3,"ebl":7.4,"ebh":15.3},
      {"t":640,"pr":0.925,"prl":0.839,"pb":0.126,"pbl":0.117,"ps":0.051,"psl":0.046,"tr":14,"tb":4,"er":18.2,"erl":13.7,"erh":23.5,"eb":11.3,"ebl":7.4,"ebh":15.3},
      {"t":645,"pr":0.941,"prl":0.854,"pb":0.117,"pbl":0.108,"ps":0.044,"psl":0.040,"tr":14,"tb":4,"er":18.0,"erl":13.6,"erh":23.1,"eb":11.3,"ebl":7.4,"ebh":15.2},
      {"t":650,"pr":0.912,"prl":0.829,"pb":0.129,"pbl":0.121,"ps":0.059,"psl":0.053,"tr":15,"tb":4,"er":17.9,"erl":13.9,"erh":23.0,"eb":11.4,"ebl":7.5,"ebh":15.3},
      {"t":655,"pr":0.922,"prl":0.838,"pb":0.126,"pbl":0.119,"ps":0.053,"psl":0.048,"tr":15,"tb":4,"er":18.2,"erl":13.6,"erh":23.1,"eb":11.2,"ebl":7.4,"ebh":15.2},
      {"t":660,"pr":0.980,"prl":0.892,"pb":0.083,"pbl":0.077,"ps":0.042,"psl":0.038,"tr":15,"tb":4,"er":19.4,"erl":14.1,"erh":24.9,"eb":11.0,"ebl":7.3,"ebh":15.0},
      {"t":665,"pr":0.991,"prl":0.901,"pb":0.065,"pbl":0.060,"ps":0.045,"psl":0.040,"tr":15,"tb":4,"er":19.4,"erl":14.4,"erh":24.9,"eb":10.9,"ebl":7.3,"ebh":14.7},
      {"t":670,"pr":0.988,"prl":0.899,"pb":0.077,"pbl":0.072,"ps":0.036,"psl":0.032,"tr":16,"tb":4,"er":19.2,"erl":14.4,"erh":24.3,"eb":10.9,"ebl":7.2,"ebh":14.7},
      {"t":675,"pr":0.986,"prl":0.898,"pb":0.086,"pbl":0.081,"ps":0.027,"psl":0.024,"tr":17,"tb":5,"er":19.4,"erl":14.5,"erh":24.7,"eb":10.9,"ebl":7.2,"ebh":14.6},
      {"t":680,"pr":1.0,"prl":0.914,"pb":0.071,"pbl":0.068,"ps":0.023,"psl":0.020,"tr":17,"tb":6,"er":19.6,"erl":14.2,"erh":24.9,"eb":10.9,"ebl":7.4,"ebh":14.6},
      {"t":685,"pr":0.987,"prl":0.899,"pb":0.080,"pbl":0.075,"ps":0.034,"psl":0.030,"tr":18,"tb":7,"er":19.1,"erl":13.9,"erh":24.4,"eb":10.8,"ebl":7.4,"ebh":14.5},
      {"t":690,"pr":1.0,"prl":0.925,"pb":0.060,"pbl":0.055,"ps":0.025,"psl":0.022,"tr":19,"tb":7,"er":20.4,"erl":15.1,"erh":25.5,"eb":10.8,"ebl":7.2,"ebh":14.2},
      {"t":695,"pr":1.0,"prl":0.929,"pb":0.046,"pbl":0.044,"ps":0.032,"psl":0.028,"tr":20,"tb":7,"er":20.5,"erl":15.5,"erh":25.7,"eb":11.0,"ebl":7.3,"ebh":14.6},
      {"t":700,"pr":1.0,"prl":0.925,"pb":0.055,"pbl":0.050,"ps":0.032,"psl":0.028,"tr":20,"tb":8,"er":20.6,"erl":14.9,"erh":25.9,"eb":10.9,"ebl":7.4,"ebh":14.4},
      {"t":705,"pr":1.0,"prl":0.917,"pb":0.062,"pbl":0.058,"ps":0.030,"psl":0.026,"tr":21,"tb":8,"er":20.3,"erl":14.7,"erh":25.8,"eb":10.8,"ebl":6.8,"ebh":14.6},
      {"t":710,"pr":1.0,"prl":0.929,"pb":0.055,"pbl":0.051,"ps":0.031,"psl":0.027,"tr":21,"tb":9,"er":20.3,"erl":14.8,"erh":25.4,"eb":10.8,"ebl":7.4,"ebh":14.4},
      {"t":715,"pr":1.0,"prl":0.938,"pb":0.050,"pbl":0.046,"ps":0.026,"psl":0.023,"tr":21,"tb":9,"er":20.4,"erl":15.2,"erh":25.5,"eb":10.8,"ebl":7.6,"ebh":14.4},
      {"t":720,"pr":1.0,"prl":0.946,"pb":0.045,"pbl":0.041,"ps":0.020,"psl":0.017,"tr":21,"tb":9,"er":20.7,"erl":15.5,"erh":25.7,"eb":11.1,"ebl":7.5,"ebh":14.4},
      {"t":720,"pr":0.912,"prl":0.837,"pb":0.135,"pbl":0.120,"ps":0.047,"psl":0.040,"tr":0,"tb":0,"er":17.4,"erl":12.6,"erh":18.0,"eb":11.0,"ebl":7.6,"ebh":14.2},
      {"t":725,"pr":1.0,"prl":0.950,"pb":0.032,"pbl":0.028,"ps":0.025,"psl":0.021,"tr":0,"tb":0,"er":18.9,"erl":14.6,"erh":23.6,"eb":10.1,"ebl":7.0,"ebh":13.4},
      {"t":730,"pr":1.0,"prl":0.968,"pb":0.027,"pbl":0.023,"ps":0.014,"psl":0.011,"tr":0,"tb":0,"er":20.0,"erl":15.5,"erh":24.5,"eb":9.6,"ebl":6.5,"ebh":12.8},
      {"t":735,"pr":1.0,"prl":0.970,"pb":0.017,"pbl":0.014,"ps":0.016,"psl":0.013,"tr":0,"tb":0,"er":19.6,"erl":15.0,"erh":24.3,"eb":9.2,"ebl":6.2,"ebh":12.1},
      {"t":740,"pr":1.0,"prl":0.962,"pb":0.023,"pbl":0.020,"ps":0.020,"psl":0.016,"tr":0,"tb":0,"er":19.6,"erl":15.0,"erh":23.8,"eb":9.0,"ebl":6.1,"ebh":12.0},
      {"t":745,"pr":1.0,"prl":0.983,"pb":0.010,"pbl":0.008,"ps":0.006,"psl":0.004,"tr":1,"tb":0,"er":20.0,"erl":15.6,"erh":24.3,"eb":8.6,"ebl":5.9,"ebh":11.8},
      {"t":750,"pr":1.0,"prl":0.995,"pb":0.002,"pbl":0.001,"ps":0.002,"psl":0.001,"tr":2,"tb":0,"er":21.4,"erl":17.3,"erh":25.9,"eb":8.3,"ebl":5.7,"ebh":11.1},
      {"t":755,"pr":1.0,"prl":0.986,"pb":0.010,"pbl":0.008,"ps":0.005,"psl":0.003,"tr":2,"tb":0,"er":20.3,"erl":15.8,"erh":24.3,"eb":8.3,"ebl":5.4,"ebh":11.2},
      {"t":760,"pr":1.0,"prl":0.994,"pb":0.005,"pbl":0.003,"ps":0.002,"psl":0.001,"tr":3,"tb":0,"er":21.6,"erl":17.4,"erh":25.7,"eb":7.9,"ebl":5.2,"ebh":10.9},
      {"t":765,"pr":1.0,"prl":1.0,"pb":0.002,"pbl":0.001,"ps":0,"psl":0,"tr":4,"tb":0,"er":22.8,"erl":18.5,"erh":26.9,"eb":7.8,"ebl":4.9,"ebh":10.6},
      {"t":770,"pr":1,"prl":1,"pb":0,"pbl":0,"ps":0,"psl":0,"tr":6,"tb":1,"er":24.9,"erl":20.5,"erh":29.1,"eb":8.5,"ebl":5.7,"ebh":11.4},
      {"t":775,"pr":1,"prl":1,"pb":0,"pbl":0,"ps":0,"psl":0,"tr":7,"tb":1,"er":25.6,"erl":21.1,"erh":29.8,"eb":8.1,"ebl":5.5,"ebh":10.8},
      {"t":780,"pr":1,"prl":1,"pb":0,"pbl":0,"ps":0,"psl":0,"tr":7,"tb":1,"er":25.9,"erl":21.6,"erh":30.3,"eb":7.8,"ebl":5.3,"ebh":10.3},
      {"t":785,"pr":1,"prl":1,"pb":0,"pbl":0,"ps":0,"psl":0,"tr":7,"tb":1,"er":24.4,"erl":20.3,"erh":28.7,"eb":7.4,"ebl":5.0,"ebh":9.9},
      {"t":790,"pr":1,"prl":1,"pb":0,"pbl":0,"ps":0,"psl":0,"tr":7,"tb":1,"er":23.5,"erl":19.6,"erh":27.6,"eb":7.1,"ebl":4.7,"ebh":9.5},
      {"t":795,"pr":1,"prl":1,"pb":0,"pbl":0,"ps":0,"psl":0,"tr":7,"tb":1,"er":23.0,"erl":18.9,"erh":26.5,"eb":6.8,"ebl":4.6,"ebh":9.3},
      {"t":800,"pr":1,"prl":1,"pb":0,"pbl":0,"ps":0,"psl":0,"tr":8,"tb":1,"er":22.9,"erl":19.2,"erh":26.6,"eb":6.5,"ebl":4.4,"ebh":9.0},
      {"t":805,"pr":1,"prl":1,"pb":0,"pbl":0,"ps":0,"psl":0,"tr":8,"tb":1,"er":22.4,"erl":18.5,"erh":25.8,"eb":6.4,"ebl":4.1,"ebh":8.7},
      {"t":810,"pr":1,"prl":1,"pb":0,"pbl":0,"ps":0,"psl":0,"tr":9,"tb":2,"er":21.9,"erl":18.2,"erh":25.2,"eb":6.9,"ebl":4.6,"ebh":8.6},
      {"t":815,"pr":1,"prl":1,"pb":0,"pbl":0,"ps":0,"psl":0,"tr":10,"tb":2,"er":22.1,"erl":18.6,"erh":25.4,"eb":6.2,"ebl":4.5,"ebh":8.5},
      {"t":820,"pr":1,"prl":1,"pb":0,"pbl":0,"ps":0,"psl":0,"tr":11,"tb":2,"er":14.0,"erl":11.9,"erh":16.6,"eb":4.8,"ebl":3.0,"ebh":6.5},
      {"t":825,"pr":1,"prl":1,"pb":0.003,"pbl":0.002,"ps":0,"psl":0,"tr":11,"tb":2,"er":13.6,"erl":11.4,"erh":15.6,"eb":4.6,"ebl":2.7,"ebh":6.4},
      {"t":830,"pr":1,"prl":1,"pb":0,"pbl":0,"ps":0,"psl":0,"tr":12,"tb":2,"er":14.0,"erl":11.8,"erh":16.1,"eb":4.4,"ebl":2.6,"ebh":6.0},
      {"t":835,"pr":1,"prl":1,"pb":0,"pbl":0,"ps":0,"psl":0,"tr":12,"tb":2,"er":13.9,"erl":12.3,"erh":15.3,"eb":4.1,"ebl":2.5,"ebh":5.6},
      {"t":840,"pr":1,"prl":1,"pb":0,"pbl":0,"ps":0,"psl":0,"tr":15,"tb":2,"er":15.8,"erl":14.8,"erh":17.0,"eb":3.7,"ebl":2.3,"ebh":5.1},
      {"t":845,"pr":1,"prl":1,"pb":0,"pbl":0,"ps":0,"psl":0,"tr":17,"tb":2,"er":17.5,"erl":16.7,"erh":18.8,"eb":3.5,"ebl":2.3,"ebh":4.6},
      {"t":850,"pr":1,"prl":1,"pb":0,"pbl":0,"ps":0,"psl":0,"tr":17,"tb":2,"er":17.5,"erl":16.7,"erh":18.5,"eb":3.3,"ebl":2.3,"ebh":4.5},
      {"t":855,"pr":1,"prl":1,"pb":0,"pbl":0,"ps":0,"psl":0,"tr":17,"tb":2,"er":17.6,"erl":16.7,"erh":18.2,"eb":3.1,"ebl":2.3,"ebh":4.2},
      {"t":860,"pr":1,"prl":1,"pb":0,"pbl":0,"ps":0,"psl":0,"tr":18,"tb":2,"er":18.5,"erl":18.0,"erh":19.2,"eb":2.9,"ebl":2.3,"ebh":3.8},
      {"t":865,"pr":1,"prl":1,"pb":0,"pbl":0,"ps":0,"psl":0,"tr":20,"tb":2,"er":20.0,"erl":19.9,"erh":20.2,"eb":2.8,"ebl":2.6,"ebh":3.7},
      {"t":870,"pr":1,"prl":1,"pb":0,"pbl":0,"ps":0,"psl":0,"tr":20,"tb":3,"er":20.0,"erl":19.9,"erh":20.1,"eb":3.4,"ebl":2.8,"ebh":4.0},
      {"t":875,"pr":1,"prl":1,"pb":0,"pbl":0,"ps":0,"psl":0,"tr":20,"tb":3,"er":20.0,"erl":19.9,"erh":20.0,"eb":3.3,"ebl":2.9,"ebh":3.8},
      {"t":880,"pr":1,"prl":1,"pb":0,"pbl":0,"ps":0,"psl":0,"tr":22,"tb":3,"er":22.0,"erl":22.0,"erh":22.1,"eb":3.2,"ebl":3.0,"ebh":3.7},
      {"t":885,"pr":1,"prl":1,"pb":0,"pbl":0,"ps":0,"psl":0,"tr":23,"tb":3,"er":23.0,"erl":23.0,"erh":23.0,"eb":3.1,"ebl":3.0,"ebh":3.4},
      {"t":890,"pr":1,"prl":1,"pb":0,"pbl":0,"ps":0,"psl":0,"tr":24,"tb":3,"er":24.0,"erl":24.0,"erh":24.0,"eb":3.1,"ebl":3.0,"ebh":3.2},
      {"t":895,"pr":1,"prl":1,"pb":0,"pbl":0,"ps":0,"psl":0,"tr":24,"tb":3,"er":24.0,"erl":24.0,"erh":24.0,"eb":3.0,"ebl":3.0,"ebh":3.1},
      {"t":900,"pr":0,"prl":0,"pb":0,"pbl":0,"ps":1,"psl":1,"tr":25,"tb":3,"er":0.2,"erl":0.2,"erh":0.2,"eb":0.2,"ebl":0.2,"ebh":0.2}
    ]
  },
  "bounds": "flush",
  "spacing": 30,
  "resolve": {"scale": {"color": "independent", "strokeDash": "independent"}},
  "vconcat": [
    {
      "width": 1985,
      "height": 531,
      "data": {"name": "fight"},
      "encoding": {
        "x": {
          "field": "t",
          "type": "quantitative",
          "scale": {"domain": [-45, 946], "nice": false, "zero": false},
          "axis": {"values": [0, 200, 400, 600, 800], "labels": false, "title": null, "grid": false}
        }
      },
      "layer": [
        {
          "data": {"name": "rounds"},
          "mark": {"type": "rule", "stroke": "#555555", "strokeWidth": 1, "strokeDash": [1, 2], "opacity": 0.8},
          "encoding": {}
        },
        {
          "mark": {"type": "area", "fill": "#ff0000", "fillOpacity": 0.1},
          "encoding": {
            "y": {
              "field": "pr",
              "type": "quantitative",
              "title": "Prob",
              "scale": {"domain": [0, 1.15], "nice": false, "zero": false},
              "axis": {
                "values": [0, 0.05, 0.1, 0.15, 0.2, 0.25, 0.3, 0.35, 0.4, 0.45, 0.5, 0.55, 0.6, 0.65, 0.7, 0.75, 0.8, 0.85, 0.9, 0.95, 1.0, 1.05, 1.1, 1.15],
                "tickCount": 24,
                "format": ".2f",
                "grid": true,
                "labelOverlap": false,
                "title": "Prob",
                "titleFontSize": 12.5,
                "titlePadding": 10
              }
            },
            "y2": {"field": "prl"}
          }
        },
        {
          "mark": {"type": "area", "fill": "#0000ff", "fillOpacity": 0.1},
          "encoding": {"y": {"field": "pb", "type": "quantitative", "title": "Prob"}, "y2": {"field": "pbl"}}
        },
        {
          "mark": {"type": "area", "fill": "#808080", "fillOpacity": 0.1},
          "encoding": {"y": {"field": "ps", "type": "quantitative", "title": "Prob"}, "y2": {"field": "psl"}}
        },
        {
          "mark": {"type": "line", "stroke": "#ff0000", "strokeWidth": 1, "strokeDash": [1, 2], "opacity": 0.55},
          "encoding": {"y": {"field": "prl", "type": "quantitative", "title": "Prob"}}
        },
        {
          "mark": {"type": "line", "stroke": "#0000ff", "strokeWidth": 1, "strokeDash": [1, 2], "opacity": 0.55},
          "encoding": {"y": {"field": "pbl", "type": "quantitative", "title": "Prob"}}
        },
        {
          "mark": {"type": "line", "stroke": "#808080", "strokeWidth": 1, "strokeDash": [1, 2], "opacity": 0.55},
          "encoding": {"y": {"field": "psl", "type": "quantitative", "title": "Prob"}}
        },
        {
          "transform": [
            {"fold": ["pr", "pb", "ps"], "as": ["series", "p"]},
            {"filter": "datum.series !== 'pr' || datum.t <= 765"}
          ],
          "mark": {"type": "line", "strokeWidth": 2},
          "encoding": {
            "y": {"field": "p", "type": "quantitative", "title": "Prob"},
            "color": {
              "field": "series",
              "type": "nominal",
              "scale": {"domain": ["pr", "pb", "ps"], "range": ["rgba(255,0,0,0.85)", "rgba(0,0,255,0.85)", "rgba(128,128,128,0.85)"]},
              "legend": {
                "title": null,
                "orient": "top-right",
                "direction": "horizontal",
                "offset": 7,
                "labelExpr": "datum.label == 'pr' ? \"PIERCE O'LEARY\" : datum.label == 'pb' ? 'MAXI HUGHES' : 'Same'",
                "labelFont": "DejaVu Sans",
                "labelFontSize": 12.5,
                "labelColor": "#000000",
                "symbolSize": 729,
                "symbolStrokeWidth": 2,
                "columnPadding": 18,
                "labelOffset": 9,
                "padding": 1,
                "fillColor": "rgba(255,255,255,0.8)",
                "strokeColor": "#cccccc",
                "cornerRadius": 2
              }
            },
            "strokeDash": {
              "field": "series",
              "type": "nominal",
              "scale": {"domain": ["pr", "pb", "ps"], "range": [[1, 0], [1, 0], [7, 3]]}
            }
          }
        },
        {
          "transform": [{"filter": "datum.t >= 765"}],
          "mark": {"type": "line", "stroke": "rgba(255,0,0,0.9)", "strokeWidth": 2, "strokeDash": [8, 4]},
          "encoding": {"y": {"field": "pr", "type": "quantitative", "title": "Prob"}}
        },
        {
          "data": {"name": "rounds"},
          "mark": {"type": "text", "align": "left", "baseline": "middle", "dx": 5, "fontSize": 15, "color": "#666666"},
          "encoding": {
            "y": {
              "datum": 1.1,
              "type": "quantitative",
              "title": "Prob",
              "axis": {
                "values": [0, 0.05, 0.1, 0.15, 0.2, 0.25, 0.3, 0.35, 0.4, 0.45, 0.5, 0.55, 0.6, 0.65, 0.7, 0.75, 0.8, 0.85, 0.9, 0.95, 1.0, 1.05, 1.1, 1.15],
                "tickCount": 24,
                "format": ".2f",
                "grid": true,
                "labelOverlap": false,
                "title": "Prob",
                "titleFontSize": 12.5,
                "titlePadding": 10
              }
            },
            "text": {"field": "r"}
          }
        }
      ]
    },
    {
      "width": 1985,
      "height": 355,
      "data": {"name": "fight"},
      "encoding": {
        "x": {
          "field": "t",
          "type": "quantitative",
          "scale": {"domain": [-45, 946], "nice": false, "zero": false},
          "axis": {
            "values": [0, 200, 400, 600, 800],
            "title": "Fight time (seconds)",
            "titleFontSize": 20.8,
            "titlePadding": 12,
            "grid": false,
            "labelFlush": false
          }
        }
      },
      "layer": [
        {
          "data": {"name": "rounds"},
          "mark": {"type": "rule", "stroke": "#555555", "strokeWidth": 1, "strokeDash": [1, 2], "opacity": 0.8},
          "encoding": {}
        },
        {
          "mark": {"type": "area", "fill": "#ff0000", "fillOpacity": 0.13, "stroke": "#ff0000", "strokeOpacity": 0.13, "strokeWidth": 1},
          "encoding": {
            "y": {
              "field": "erh",
              "type": "quantitative",
              "title": "Count",
              "scale": {"domain": [-1.55, 31.95], "nice": false, "zero": false},
              "axis": {
                "values": [0, 5, 10, 15, 20, 25, 30],
                "grid": true,
                "title": "Count",
                "titleFontSize": 16,
                "titlePadding": 10
              }
            },
            "y2": {"field": "erl"}
          }
        },
        {
          "mark": {"type": "area", "fill": "#0000ff", "fillOpacity": 0.13, "stroke": "#0000ff", "strokeOpacity": 0.13, "strokeWidth": 1},
          "encoding": {"y": {"field": "ebh", "type": "quantitative", "title": "Count"}, "y2": {"field": "ebl"}}
        },
        {
          "data": {"name": "rounds"},
          "mark": {"type": "text", "align": "left", "baseline": "middle", "dx": 5, "fontSize": 15, "color": "#666666"},
          "encoding": {"y": {"datum": 30.2}, "text": {"field": "r"}}
        },
        {
          "transform": [{"fold": ["tr", "tb", "er", "eb"], "as": ["key", "v"]}],
          "mark": {"type": "line", "strokeWidth": 2.6},
          "encoding": {
            "y": {"field": "v", "type": "quantitative", "title": "Count"},
            "color": {
              "field": "key",
              "type": "nominal",
              "scale": {"domain": ["tr", "tb", "er", "eb"], "range": ["rgba(255,0,0,0.75)", "rgba(0,0,255,0.7)", "rgba(255,0,0,0.55)", "rgba(0,0,255,0.55)"]},
              "legend": {
                "title": null,
                "orient": "top-left",
                "offset": 8,
                "labelExpr": "datum.label == 'tr' ? \"Truth PIERCE O'LEARY: 25\" : datum.label == 'tb' ? 'Truth MAXI HUGHES: 3' : datum.label == 'er' ? \"Predicted PIERCE O'LEARY: 16.5\" : 'Predicted MAXI HUGHES: 11.1'",
                "labelFont": "DejaVu Sans",
                "labelFontSize": 14.6,
                "labelColor": "#000000",
                "labelLimit": 500,
                "symbolSize": 740,
                "symbolStrokeWidth": 2.6,
                "labelOffset": 10,
                "rowPadding": 0,
                "padding": 3,
                "fillColor": "rgba(255,255,255,0.8)",
                "strokeColor": "#cccccc",
                "cornerRadius": 3
              }
            },
            "strokeDash": {
              "field": "key",
              "type": "nominal",
              "scale": {"domain": ["tr", "tb", "er", "eb"], "range": [[1, 0], [1, 0], [2.5, 5.5], [2.5, 5.5]]}
            }
          }
        }
      ]
    }
  ]
}
